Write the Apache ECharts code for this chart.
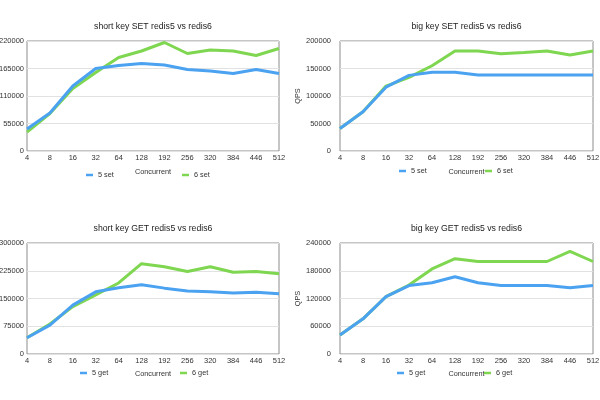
<!DOCTYPE html>
<html>
<head>
<meta charset="utf-8">
<script src="https://cdn.jsdelivr.net/npm/echarts@6/dist/echarts.min.js"></script>
<style>html,body{margin:0;padding:0;background:#fff}#c{width:600px;height:400px}</style>
</head>
<body>
<div id="c"></div>
<script>
var categories = ['4','8','16','32','64','128','192','256','320','384','446','512'];

var shortSet5 = [44000, 76000, 130000, 165000, 171000, 175000, 172000, 163000, 160000, 155000, 163000, 155000];
var shortSet6 = [38000, 75000, 125000, 157000, 187000, 200000, 217000, 195000, 202000, 200000, 191000, 205000];
var bigSet5 = [41000, 71500, 116000, 137500, 143000, 143000, 138000, 138000, 138000, 138000, 138000, 138000];
var bigSet6 = [41000, 71500, 118000, 134000, 155000, 182000, 182000, 177000, 179000, 182000, 174500, 182000];
var shortGet5 = [44000, 78000, 132000, 168000, 179000, 187000, 178000, 170000, 168000, 165000, 167000, 163000];
var shortGet6 = [44000, 81000, 128000, 160000, 192000, 244000, 236000, 223000, 236000, 221000, 223000, 217000];
var bigGet5 = [41000, 76000, 124000, 148000, 154000, 167000, 154000, 148000, 148000, 148000, 143000, 148000];
var bigGet6 = [41000, 76000, 124000, 149000, 184000, 206000, 200000, 200000, 200000, 200000, 222000, 200000];

var titles = ['short key SET redis5 vs redis6', 'big key SET redis5 vs redis6',
              'short key GET redis5 vs redis6', 'big key GET redis5 vs redis6'];
var yMax = [220000, 200000, 300000, 240000];
var yStep = [55000, 50000, 75000, 60000];
var names5 = ['5 set', '5 set', '5 get', '5 get'];
var names6 = ['6 set', '6 set', '6 get', '6 get'];
var data5 = [shortSet5, bigSet5, shortGet5, bigGet5];
var data6 = [shortSet6, bigSet6, shortGet6, bigGet6];

var BLUE = '#4BA2F0', GREEN = '#7FD650';
var FONT = 'Liberation Sans, Arial, sans-serif';

var boxes = [
  {left: 27, top: 41, width: 252, height: 110, lm: 3, qps: false, ng: 17},
  {left: 340, top: 41, width: 253, height: 110, lm: 9, qps: true, ng: 17},
  {left: 27, top: 243, width: 252, height: 111, lm: 3, qps: false, ng: 16},
  {left: 340, top: 243, width: 253, height: 111, lm: 9, qps: true, ng: 16}
];
var legendPos = [
  {a: 86, b: 182, y: 176},
  {a: 399, b: 485, y: 172},
  {a: 80, b: 180, y: 374},
  {a: 397, b: 484, y: 374}
];

var grids = [], xAxes = [], yAxes = [], series = [], legends = [], graphics = [];
for (var i = 0; i < 4; i++) {
  var b = boxes[i];
  grids.push({left: b.left, top: b.top, width: b.width, height: b.height,
    show: true, borderColor: '#8c8c8c', borderWidth: 1, containLabel: false,
    outerBoundsMode: 'none'});
  xAxes.push({type: 'category', gridIndex: i, data: categories, boundaryGap: false,
    name: 'Concurrent', nameLocation: 'middle', nameGap: b.ng,
    nameTextStyle: {fontSize: 7.3, color: '#333', fontFamily: FONT},
    axisLine: {show: false}, axisTick: {show: false},
    axisLabel: {fontSize: 7.5, color: '#333', margin: 3, fontFamily: FONT, interval: 0},
    splitLine: {show: false}});
  yAxes.push({type: 'value', gridIndex: i, min: 0, max: yMax[i], interval: yStep[i],
    name: b.qps ? 'QPS' : '', nameLocation: 'middle', nameGap: 39,
    nameTextStyle: {fontSize: 7.3, color: '#333', fontFamily: FONT},
    axisLine: {show: false}, axisTick: {show: false},
    axisLabel: {fontSize: 7.5, color: '#333', margin: b.lm, fontFamily: FONT,
      formatter: function (v) { return String(v); }},
    splitLine: {show: true, lineStyle: {color: '#e2e2e2', width: 1}}});
  series.push({type: 'line', name: names6[i], xAxisIndex: i, yAxisIndex: i, data: data6[i],
    showSymbol: false, symbol: 'none', lineStyle: {color: GREEN, width: 3}, itemStyle: {color: GREEN},
    animation: false});
  series.push({type: 'line', name: names5[i], xAxisIndex: i, yAxisIndex: i, data: data5[i],
    showSymbol: false, symbol: 'none', lineStyle: {color: BLUE, width: 3}, itemStyle: {color: BLUE},
    animation: false});
  var lp = legendPos[i];
  legends.push({data: [names5[i]], left: lp.a, top: lp.y - 4.5, padding: 0, icon: 'rect',
    itemWidth: 7, itemHeight: 2.5, selectedMode: false,
    textStyle: {fontSize: 7.3, color: '#333', fontFamily: FONT}});
  legends.push({data: [names6[i]], left: lp.b, top: lp.y - 4.5, padding: 0, icon: 'rect',
    itemWidth: 7, itemHeight: 2.5, selectedMode: false,
    textStyle: {fontSize: 7.3, color: '#333', fontFamily: FONT}});
  graphics.push({type: 'text', x: b.left + b.width / 2, y: b.top - 14,
    style: {text: titles[i], textAlign: 'center', textVerticalAlign: 'middle',
      fontSize: 8.7, fill: '#222', fontFamily: FONT}});
}

var chart = echarts.init(document.getElementById('c'), null, {renderer: 'canvas'});
chart.setOption({
  animation: false,
  backgroundColor: '#fff',
  grid: grids, xAxis: xAxes, yAxis: yAxes, series: series, legend: legends, graphic: graphics
});
</script>
</body>
</html>
